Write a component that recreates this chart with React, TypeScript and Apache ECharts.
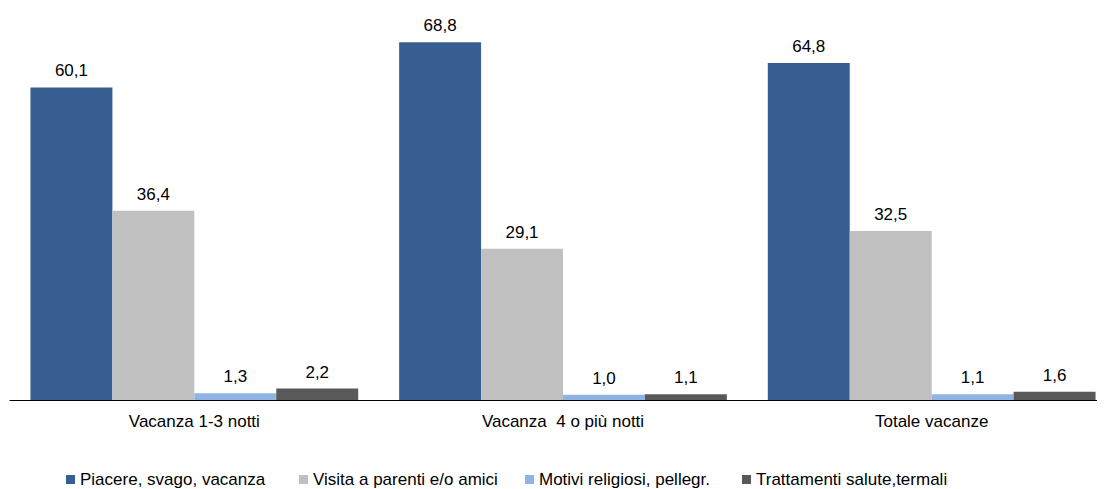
import React, { useEffect, useRef } from "react";
import * as echarts from "echarts";

const categories = ["Vacanza 1-3 notti", "Vacanza  4 o più notti", "Totale vacanze"];
const seriesNames = [
  "Piacere, svago, vacanza",
  "Visita a parenti e/o amici",
  "Motivi religiosi, pellegr.",
  "Trattamenti salute,termali",
];
const piacere = [60.1, 68.8, 64.8];
const visita = [36.4, 29.1, 32.5];
const religiosi = [1.3, 1.0, 1.1];
const trattamenti = [2.2, 1.1, 1.6];
const colors = ["#365E91", "#C0C0C0", "#8EB4E3", "#595959"];
const legendLefts = [66, 299, 525, 742];

const FONT = "'Liberation Sans', Arial, sans-serif";

export default function App() {
  const ref = useRef<HTMLDivElement>(null);
  useEffect(() => {
    if (!ref.current) return;
    const chart = echarts.init(ref.current, undefined, { renderer: "svg" });
    const values = [piacere, visita, religiosi, trattamenti];
    chart.setOption({
      animation: false,
      textStyle: { fontFamily: FONT },
      grid: { left: 10, width: 1106, top: 10, bottom: 89, containLabel: false },
      graphic: [
        {
          type: "rect",
          left: 1097,
          top: 395,
          z: 100,
          shape: { width: 40, height: 10 },
          style: { fill: "#fff" },
          silent: true,
        },
      ],
      legend: seriesNames.map((n, i) => ({
        data: [n],
        left: legendLefts[i],
        top: 471,
        itemWidth: 9,
        itemHeight: 9,
        itemGap: 6,
        icon: "rect",
        textStyle: { fontSize: 17, color: "#000", fontFamily: FONT, padding: [0, 0, 0, 0] },
        padding: 0,
      })),
      xAxis: {
        type: "category",
        data: categories,
        axisLine: { lineStyle: { color: "#000", width: 1 } },
        axisTick: { show: false },
        axisLabel: { fontSize: 17, color: "#000", margin: 13, fontFamily: FONT },
      },
      yAxis: {
        type: "value",
        min: 0,
        max: 75,
        show: false,
        splitLine: { show: false },
      },
      series: seriesNames.map((n, i) => ({
        name: n,
        type: "bar",
        data: values[i],
        barGap: "0%",
        barCategoryGap: "11.1%",
        itemStyle: { color: colors[i] },
        label: {
          show: true,
          position: "top",
          distance: 8,
          fontSize: 17,
          color: "#000",
          fontFamily: FONT,
          formatter: (p: any) => Number(p.value).toFixed(1).replace(".", ","),
        },
      })),
    });
    return () => chart.dispose();
  }, []);
  return (
    <div
      style={{
        position: "fixed",
        left: 0,
        top: 0,
        width: 1104,
        height: 489,
        overflow: "hidden",
        background: "#fff",
      }}
    >
      <div ref={ref} style={{ width: 1124, height: 489 }} />
    </div>
  );
}
